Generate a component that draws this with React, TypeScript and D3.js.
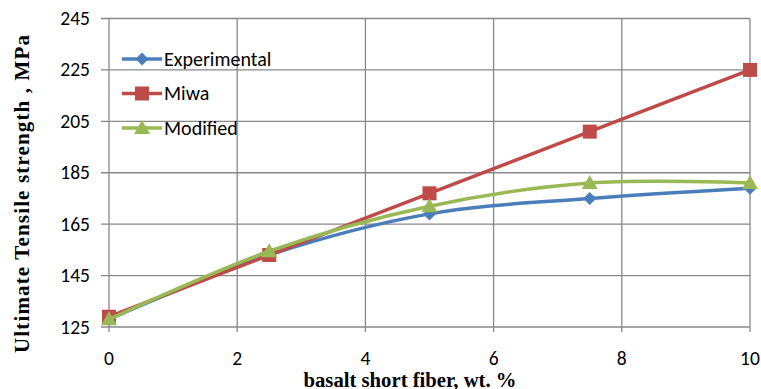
import React from "react";
import * as d3 from "d3";

const xValues = [0, 2.5, 5, 7.5, 10];
const experimental = [128, 153, 169, 175, 179];
const miwa = [129, 153, 177, 201, 225];
const modified = [128, 154.5, 172, 181, 181];
const xTicks = [0, 2, 4, 6, 8, 10];
const yTicks = [125, 145, 165, 185, 205, 225, 245];
const seriesNames = ["Experimental", "Miwa", "Modified"];
const seriesColors = ["#4A7EBB", "#BE4B48", "#98B954"];

const W = 761, H = 389;
const x = d3.scaleLinear().domain([0, 10]).range([109, 750]);
const y = d3.scaleLinear().domain([125, 245]).range([327, 18.5]);
const sans = "Carlito, 'Open Sans', sans-serif";
const serif = "'Liberation Serif', 'Times New Roman', serif";

function Marker({ kind, cx, cy, color }: { kind: number; cx: number; cy: number; color: string }) {
  if (kind === 0) {
    const s = 6.5;
    return <path d={`M${cx},${cy - s}L${cx + s},${cy}L${cx},${cy + s}L${cx - s},${cy}Z`} fill={color} />;
  }
  if (kind === 1) {
    return <rect x={cx - 7} y={cy - 7} width={14} height={14} fill={color} />;
  }
  const s = 8;
  return <path d={`M${cx},${cy - s}L${cx + s},${cy + s * 0.75}L${cx - s},${cy + s * 0.75}Z`} fill={color} />;
}

export default function App() {
  const data = [experimental, miwa, modified];
  const line = d3
    .line<[number, number]>()
    .x((d) => x(d[0]))
    .y((d) => y(d[1]))
    .curve(d3.curveCatmullRom.alpha(0));
  const gridColor = "#888888";
  return (
    <svg width={W} height={H} style={{ position: "absolute", left: 0, top: 0, background: "#fff" }}>
      {yTicks.map((t) => (
        <line key={"gy" + t} x1={101} x2={750} y1={y(t)} y2={y(t)} stroke={gridColor} strokeWidth={1.3} />
      ))}
      {xTicks.map((t) => (
        <line key={"gx" + t} x1={x(t)} x2={x(t)} y1={y(245)} y2={y(125) + 5} stroke={gridColor} strokeWidth={1.3} />
      ))}
      {yTicks.map((t) => (
        <text key={"ty" + t} x={90} y={y(t) + 6.5} textAnchor="end" fontFamily={sans} fontSize={19.5} fill="#000">
          {t}
        </text>
      ))}
      {xTicks.map((t) => (
        <text key={"tx" + t} x={x(t)} y={365} textAnchor="middle" fontFamily={sans} fontSize={19.5} fill="#000">
          {t}
        </text>
      ))}
      {data.map((vals, i) => {
        const pts: [number, number][] = xValues.map((xv, j) => [xv, vals[j]]);
        return (
          <g key={"s" + i}>
            <path d={line(pts) || ""} fill="none" stroke={seriesColors[i]} strokeWidth={3.5} />
            {pts.map((p, j) => (
              <Marker key={j} kind={i} cx={x(p[0])} cy={y(p[1])} color={seriesColors[i]} />
            ))}
          </g>
        );
      })}
      {seriesNames.map((n, i) => {
        const ly = 59 + i * 34.5;
        return (
          <g key={"l" + n}>
            <line x1={122} x2={162} y1={ly} y2={ly} stroke={seriesColors[i]} strokeWidth={3.5} />
            <Marker kind={i} cx={142} cy={ly} color={seriesColors[i]} />
            <text x={164} y={ly + 6.5} fontFamily={sans} fontSize={20} fill="#000">
              {n}
            </text>
          </g>
        );
      })}
      <text x={410} y={386.5} textAnchor="middle" fontFamily={serif} fontWeight="bold" fontSize={20} textLength={213} lengthAdjust="spacingAndGlyphs">
        basalt short fiber, wt. %
      </text>
      <text
        transform={`translate(29,${194}) rotate(-90)`}
        textAnchor="middle"
        fontFamily={serif}
        fontWeight="bold"
        fontSize={21}
        textLength={318}
        lengthAdjust="spacing"
      >
        Ultimate Tensile strength , MPa
      </text>
    </svg>
  );
}
